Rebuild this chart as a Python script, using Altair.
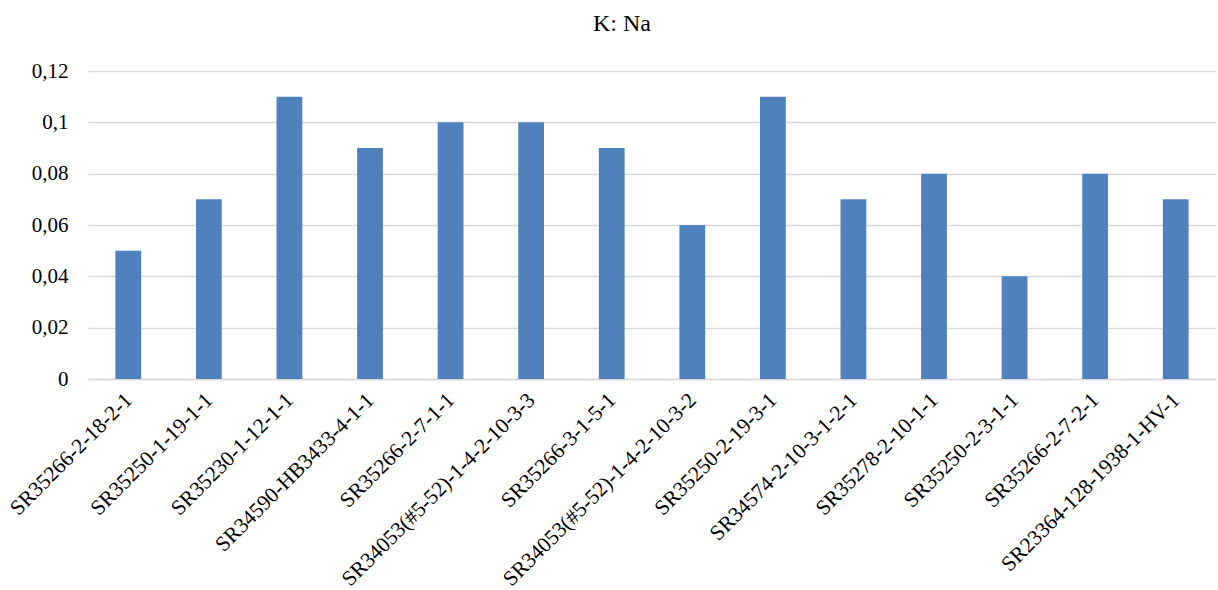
import altair as alt
import pandas as pd

categories = [
    "SR35266-2-18-2-1", "SR35250-1-19-1-1", "SR35230-1-12-1-1", "SR34590-HB3433-4-1-1",
    "SR35266-2-7-1-1", "SR34053(#5-52)-1-4-2-10-3-3", "SR35266-3-1-5-1",
    "SR34053(#5-52)-1-4-2-10-3-2", "SR35250-2-19-3-1", "SR34574-2-10-3-1-2-1",
    "SR35278-2-10-1-1", "SR35250-2-3-1-1", "SR35266-2-7-2-1", "SR23364-128-1938-1-HV-1",
]
values = [0.05, 0.07, 0.11, 0.09, 0.10, 0.10, 0.09, 0.06, 0.11, 0.07, 0.08, 0.04, 0.08, 0.07]

df = pd.DataFrame({"cat": categories, "val": values})
FONT = "Liberation Serif"

chart = alt.Chart(df).mark_bar(color="#4F81BD").encode(
    x=alt.X("cat:N", sort=categories, title=None,
            scale=alt.Scale(paddingInner=0.68, paddingOuter=0.34),
            axis=alt.Axis(labelAngle=-45, labelFont=FONT, labelFontSize=21.5, labelColor="#000000",
                          domainColor="#D9D9D9", domainWidth=1.5, ticks=False, labelPadding=10,
                          labelOffset=-7, labelLimit=0)),
    y=alt.Y("val:Q", title=None,
            scale=alt.Scale(domain=[0, 0.12], nice=False),
            axis=alt.Axis(values=[0, 0.02, 0.04, 0.06, 0.08, 0.1, 0.12],
                          labelExpr="replace(format(datum.value, '~g'), '.', ',')",
                          labelFont=FONT, labelFontSize=21, labelColor="#000000",
                          domain=False, ticks=False, gridColor="#D9D9D9", gridWidth=1.5,
                          labelPadding=20)),
).properties(
    width=1128, height=308,
    title=alt.TitleParams("K: Na", font=FONT, fontSize=24, fontWeight="normal", color="#000000",
                          frame="group", offset=24, dx=-30),
    autosize=alt.AutoSizeParams(type="none"),
    padding={"left": 88, "top": 71, "right": 2, "bottom": 211},
).configure_view(stroke=None)

chart.save("out.html", embed_options={"renderer": "svg", "actions": False})
